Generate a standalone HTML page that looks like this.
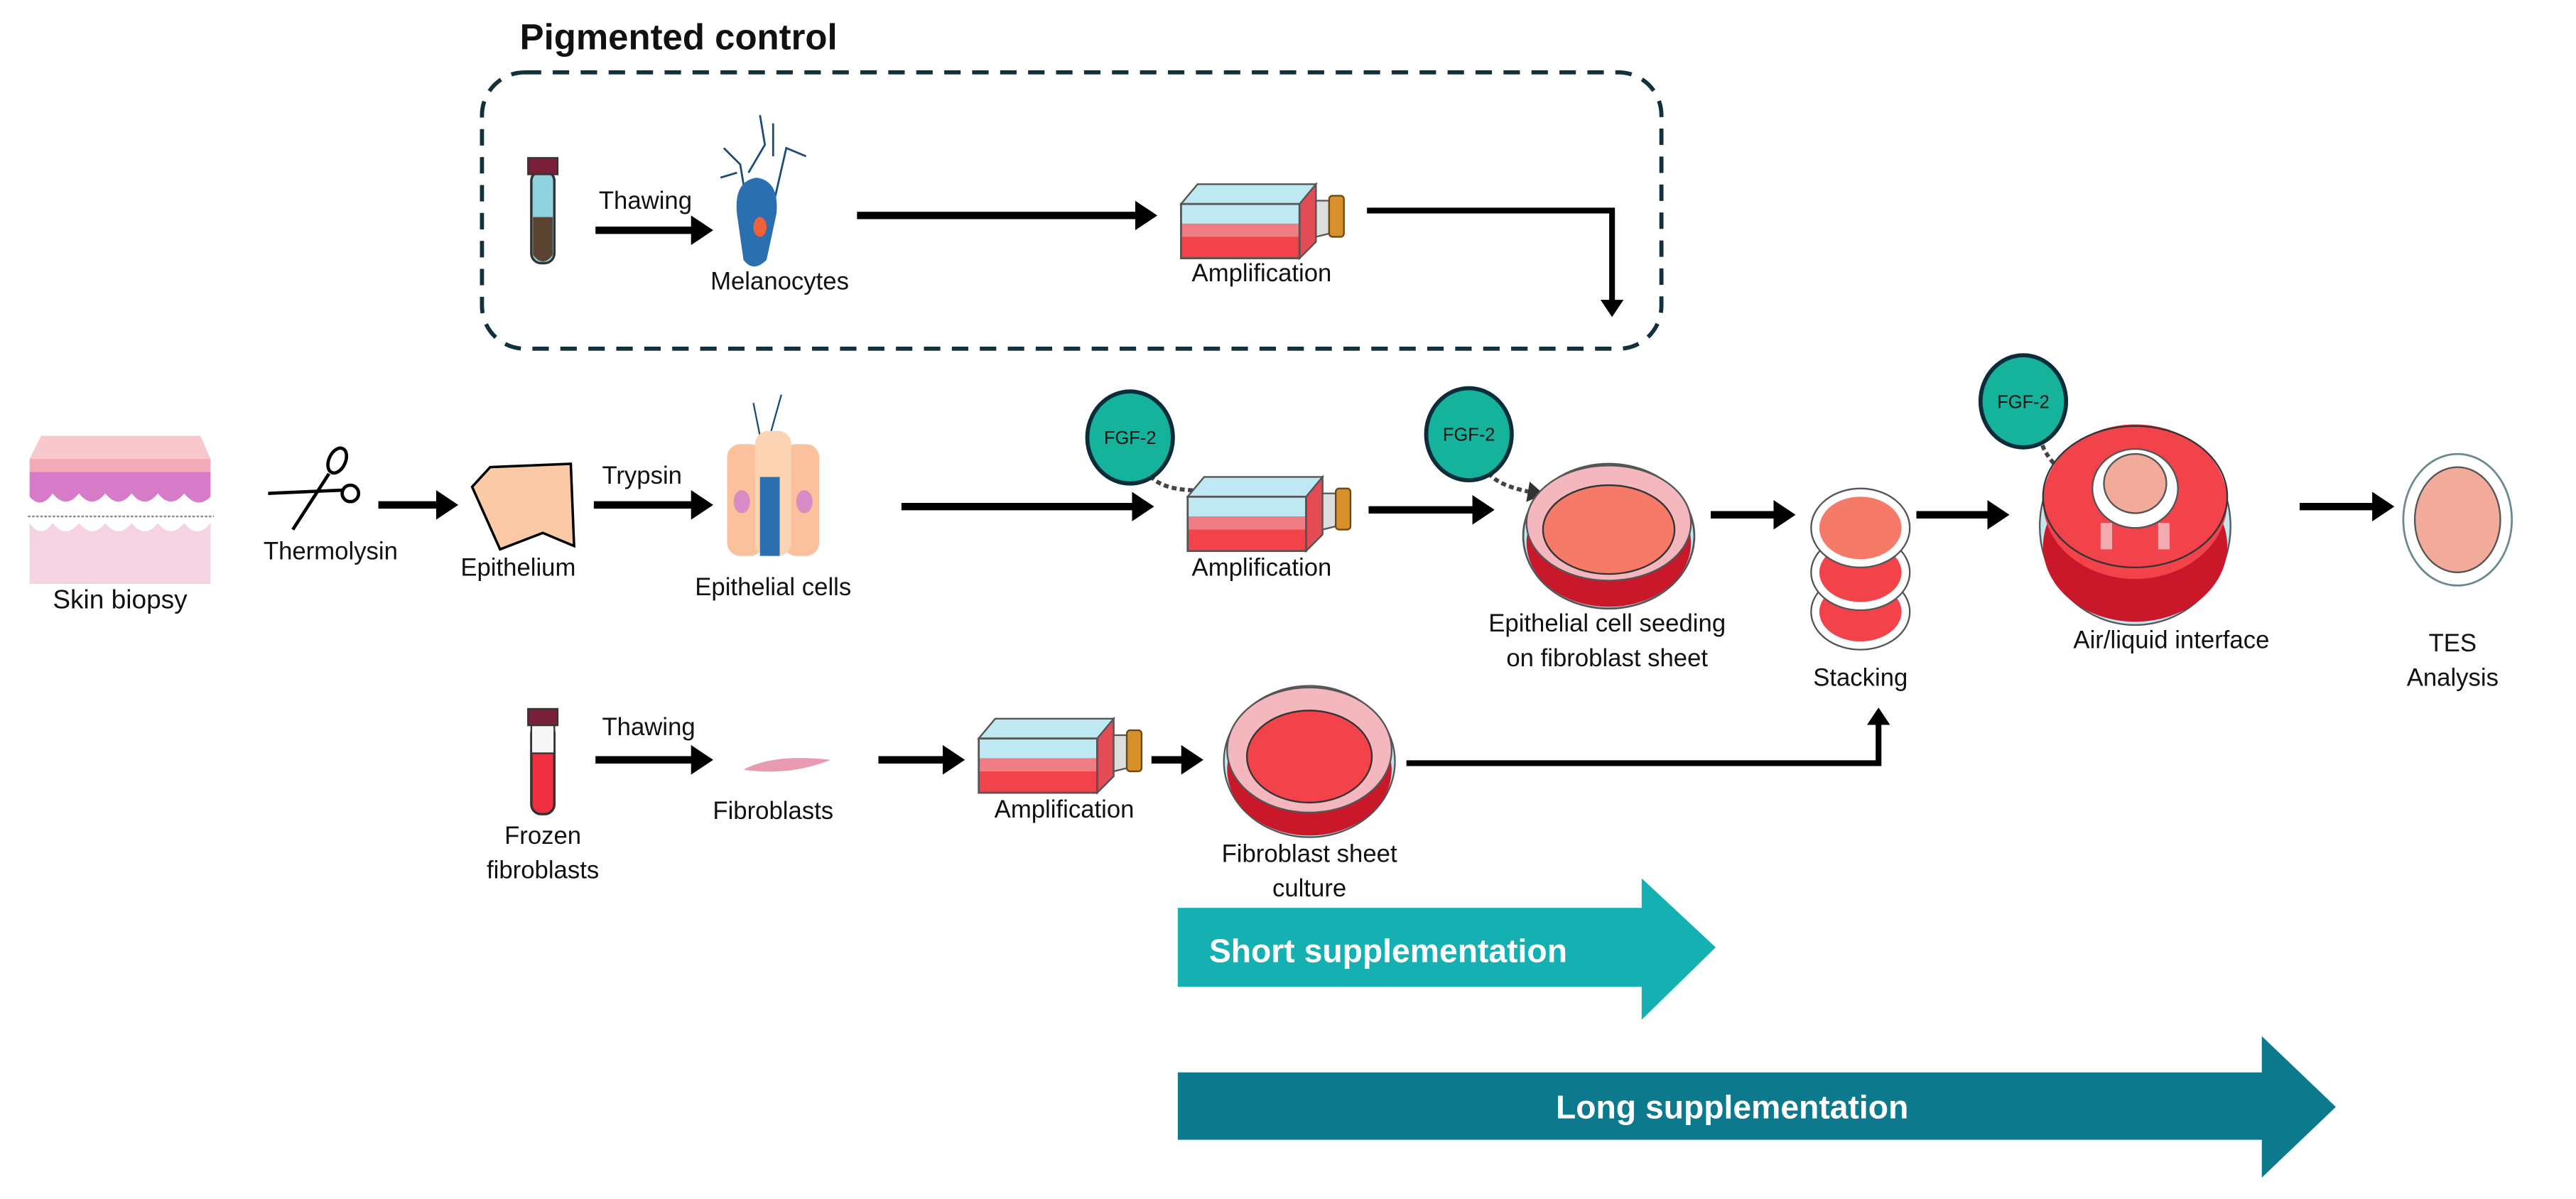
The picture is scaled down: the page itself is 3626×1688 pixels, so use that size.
<!DOCTYPE html>
<html><head><meta charset="utf-8"><style>
html,body{margin:0;padding:0;background:#fff}
svg{display:block}
text{font-family:"Liberation Sans Narrow","Liberation Sans",sans-serif;fill:#111}
</style></head><body>
<svg width="3626" height="1688" viewBox="0 0 1566 729" xmlns="http://www.w3.org/2000/svg">
<defs>
<marker id="ah" markerWidth="4" markerHeight="4" refX="2.2" refY="2" orient="auto" markerUnits="strokeWidth">
<path d="M0,0 L3,2 L0,4 z" fill="#000"/></marker>
<marker id="ahs" markerWidth="5" markerHeight="5" refX="2.5" refY="2.5" orient="auto" markerUnits="strokeWidth">
<path d="M0,0 L4,2.5 L0,5 z" fill="#333"/></marker>
<g id="flask">
<path d="M0,12 L10,0 L82,0 L82,35 L72,45 L0,45 z" fill="#f3f6f7" stroke="#555" stroke-width="1"/>
<path d="M0,12 L10,0 L82,0 L72,12 z" fill="#bfe9f2" stroke="#555" stroke-width="1"/>
<rect x="0" y="12" width="72" height="14" fill="#bfe9f2"/>
<rect x="0" y="24" width="72" height="21" fill="#f2424a"/>
<rect x="0" y="24" width="72" height="8" fill="#f07c84"/>
<path d="M72,12 L82,0 L82,35 L72,45 z" fill="#e34c54" stroke="#555" stroke-width="1"/>
<rect x="0" y="12" width="72" height="33" fill="none" stroke="#555" stroke-width="1.2"/>
<path d="M82,10 L90,10 L90,30 L82,32 z" fill="#ddd" stroke="#555"/>
<rect x="90" y="7" width="9" height="25" rx="2" fill="#d8902a" stroke="#6a4a10"/>
</g>
<g id="fgf">
<ellipse cx="0" cy="0" rx="26" ry="28" fill="#15b39c" stroke="#0b2c3a" stroke-width="2.5"/>
<text x="0" y="4" font-size="11" text-anchor="middle">FGF-2</text>
</g>
</defs>

<text x="316" y="30" font-size="22" font-weight="bold" font-family="Liberation Sans, sans-serif">Pigmented control</text>
<rect x="293" y="44" width="717" height="168" rx="26" fill="none" stroke="#13303d" stroke-width="2.5" stroke-dasharray="10,7"/>

<rect x="323" y="104" width="14" height="56" rx="6" fill="#8fd3df" stroke="#333" stroke-width="1.5"/>
<path d="M324,132 L336,132 L336,155 Q330,163 324,155 z" fill="#5a4330"/>
<rect x="321" y="96" width="18" height="10" fill="#7a1f3a" stroke="#333"/>
<text x="364" y="127" font-size="15">Thawing</text>
<line x1="362" y1="140" x2="430" y2="140" stroke="#000" stroke-width="4.5" marker-end="url(#ah)"/>
<g stroke="#1d4b7a" stroke-width="1.2" fill="none">
<path d="M455,130 L450,100 L440,90 M455,105 L465,88 L462,70 M470,125 L478,90 L490,95 M470,95 L470,75 M448,105 L438,108"/></g>
<path d="M448,130 Q446,110 460,108 Q474,110 472,130 L466,158 Q458,166 452,158 z" fill="#2a6fb0"/>
<ellipse cx="462" cy="138" rx="4" ry="6" fill="#f2603a"/>
<text x="474" y="176" font-size="15" text-anchor="middle">Melanocytes</text>
<line x1="521" y1="131" x2="700" y2="131" stroke="#000" stroke-width="4.5" marker-end="url(#ah)"/>
<use href="#flask" x="718" y="112"/>
<text x="767" y="171" font-size="15" text-anchor="middle">Amplification</text>
<polyline points="831,128 980,128 980,190" fill="none" stroke="#000" stroke-width="3.5" marker-end="url(#ah)"/>

<path d="M18,279 L25,265 L122,265 L128,279 z" fill="#f7c9cf"/>
<rect x="18" y="279" width="110" height="8" fill="#f3aab8"/>
<path d="M18,287 L128,287 L128,302 Q120,310 112,300 Q104,310 96,300 Q88,310 80,300 Q72,310 64,300 Q56,310 48,300 Q40,310 32,300 Q25,310 18,302 z" fill="#d77ac7"/>
<line x1="17" y1="314" x2="130" y2="314" stroke="#888" stroke-width="1" stroke-dasharray="1.5,1"/>
<path d="M18,318 Q25,328 32,318 Q40,328 48,318 Q56,328 64,318 Q72,328 80,318 Q88,328 96,318 Q104,328 112,318 Q120,328 128,318 L128,355 L18,355 z" fill="#f5d3e2"/>
<text x="73" y="370" font-size="16" text-anchor="middle">Skin biopsy</text>
<g stroke="#000" stroke-width="2" fill="none">
<ellipse cx="205" cy="280" rx="5" ry="8" transform="rotate(25 205 280)"/>
<circle cx="213" cy="300" r="5"/>
<line x1="200" y1="288" x2="178" y2="322"/>
<line x1="208" y1="298" x2="163" y2="300"/>
</g>
<text x="201" y="340" font-size="15" text-anchor="middle">Thermolysin</text>
<line x1="230" y1="307" x2="275" y2="307" stroke="#000" stroke-width="4.5" marker-end="url(#ah)"/>
<polygon points="287,296 298,284 347,282 349,332 330,324 304,334" fill="#fbc9a6" stroke="#000" stroke-width="1.5"/>
<text x="315" y="350" font-size="15" text-anchor="middle">Epithelium</text>
<text x="366" y="294" font-size="15">Trypsin</text>
<line x1="361" y1="307" x2="430" y2="307" stroke="#000" stroke-width="4.5" marker-end="url(#ah)"/>
<g stroke="#1d4b7a" stroke-width="1" fill="none"><path d="M462,265 L458,245 M468,265 L475,240 M455,280 L445,275"/></g>
<rect x="442" y="270" width="22" height="68" rx="8" fill="#fbc19c"/>
<rect x="476" y="270" width="22" height="68" rx="8" fill="#fbc19c"/>
<rect x="459" y="262" width="22" height="76" rx="8" fill="#fcd3b3"/>
<rect x="462" y="290" width="12" height="48" fill="#2a6fb0"/>
<ellipse cx="451" cy="305" rx="5" ry="7" fill="#d88bc5"/>
<ellipse cx="489" cy="305" rx="5" ry="7" fill="#d88bc5"/>
<text x="470" y="362" font-size="15" text-anchor="middle">Epithelial cells</text>
<line x1="548" y1="308" x2="698" y2="308" stroke="#000" stroke-width="4.5" marker-end="url(#ah)"/>
<path d="M697,285 Q702,300 738,298" fill="none" stroke="#444" stroke-width="2.5" stroke-dasharray="3,2" marker-end="url(#ahs)"/>
<use href="#fgf" x="687" y="266"/>
<use href="#flask" x="722" y="290"/>
<text x="767" y="350" font-size="15" text-anchor="middle">Amplification</text>
<line x1="832" y1="310" x2="905" y2="310" stroke="#000" stroke-width="4.5" marker-end="url(#ah)"/>
<path d="M903,283 Q905,295 935,300" fill="none" stroke="#444" stroke-width="2.5" stroke-dasharray="3,2" marker-end="url(#ahs)"/>
<use href="#fgf" x="893" y="264"/>
<ellipse cx="978" cy="326" rx="52" ry="44" fill="#bfe9f2" stroke="#555" stroke-width="1.2"/>
<ellipse cx="978" cy="330" rx="50" ry="39" fill="#c8182a"/>
<ellipse cx="978" cy="318" rx="50" ry="35" fill="#f5b7be" stroke="#555"/>
<ellipse cx="978" cy="322" rx="40" ry="27" fill="#f57a68" stroke="#333"/>
<text x="977" y="384" font-size="15" text-anchor="middle">Epithelial cell seeding</text>
<text x="977" y="405" font-size="15" text-anchor="middle">on fibroblast sheet</text>
<line x1="1040" y1="313" x2="1088" y2="313" stroke="#000" stroke-width="4.5" marker-end="url(#ah)"/>
<ellipse cx="1131" cy="372" rx="30" ry="23" fill="#fff" stroke="#555"/>
<ellipse cx="1131" cy="372" rx="25" ry="18" fill="#f2424a"/>
<ellipse cx="1131" cy="348" rx="30" ry="23" fill="#fff" stroke="#555"/>
<ellipse cx="1131" cy="348" rx="25" ry="18" fill="#f2424a"/>
<ellipse cx="1131" cy="321" rx="30" ry="24" fill="#fff" stroke="#555"/>
<ellipse cx="1131" cy="321" rx="25" ry="19" fill="#f57a68"/>
<text x="1131" y="417" font-size="15" text-anchor="middle">Stacking</text>
<line x1="1165" y1="313" x2="1218" y2="313" stroke="#000" stroke-width="4.5" marker-end="url(#ah)"/>
<path d="M1240,266 Q1245,285 1268,295" fill="none" stroke="#444" stroke-width="2.5" stroke-dasharray="3,2" marker-end="url(#ahs)"/>
<use href="#fgf" x="1230" y="244"/>
<ellipse cx="1298" cy="320" rx="58" ry="60" fill="#bfe9f2" stroke="#555"/>
<ellipse cx="1298" cy="332" rx="56" ry="46" fill="#c8182a"/>
<ellipse cx="1298" cy="305" rx="56" ry="47" fill="#f2424a"/>
<ellipse cx="1298" cy="302" rx="56" ry="43" fill="none" stroke="#333"/>
<rect x="1277" y="318" width="7" height="16" fill="#f3aab0"/>
<rect x="1312" y="318" width="7" height="16" fill="#f3aab0"/>
<ellipse cx="1298" cy="297" rx="26" ry="24" fill="#fff" stroke="#555"/>
<ellipse cx="1298" cy="294" rx="19" ry="18" fill="#f2aa9a" stroke="#555"/>
<text x="1320" y="394" font-size="15" text-anchor="middle">Air/liquid interface</text>
<line x1="1398" y1="308" x2="1452" y2="308" stroke="#000" stroke-width="4.5" marker-end="url(#ah)"/>
<ellipse cx="1494" cy="316" rx="33" ry="40" fill="#fff" stroke="#6a8a90" stroke-width="1.2"/>
<ellipse cx="1494" cy="316" rx="26" ry="32" fill="#f2aa9a" stroke="#555"/>
<text x="1491" y="396" font-size="15" text-anchor="middle">TES</text>
<text x="1491" y="417" font-size="15" text-anchor="middle">Analysis</text>

<rect x="323" y="440" width="14" height="55" rx="6" fill="#f03040" stroke="#333" stroke-width="1.5"/>
<rect x="323" y="440" width="14" height="18" fill="#f7f7f7" stroke="#333" stroke-width="1"/>
<rect x="321" y="431" width="18" height="10" fill="#7a1f3a" stroke="#333"/>
<text x="330" y="513" font-size="15" text-anchor="middle">Frozen</text>
<text x="330" y="534" font-size="15" text-anchor="middle">fibroblasts</text>
<text x="366" y="447" font-size="15">Thawing</text>
<line x1="362" y1="462" x2="430" y2="462" stroke="#000" stroke-width="4.5" marker-end="url(#ah)"/>
<path d="M452,468 Q470,458 505,462 Q480,472 452,468 z" fill="#e89ab0"/>
<text x="470" y="498" font-size="15" text-anchor="middle">Fibroblasts</text>
<line x1="534" y1="462" x2="583" y2="462" stroke="#000" stroke-width="4.5" marker-end="url(#ah)"/>
<use href="#flask" x="595" y="437"/>
<text x="647" y="497" font-size="15" text-anchor="middle">Amplification</text>
<line x1="700" y1="462" x2="728" y2="462" stroke="#000" stroke-width="4.5" marker-end="url(#ah)"/>
<ellipse cx="796" cy="463" rx="52" ry="46" fill="#bfe9f2" stroke="#555"/>
<ellipse cx="796" cy="468" rx="50" ry="40" fill="#c8182a"/>
<ellipse cx="796" cy="456" rx="50" ry="38" fill="#f5b7be" stroke="#555"/>
<ellipse cx="796" cy="460" rx="38" ry="28" fill="#f2424a" stroke="#333"/>
<text x="796" y="524" font-size="15" text-anchor="middle">Fibroblast sheet</text>
<text x="796" y="545" font-size="15" text-anchor="middle">culture</text>
<polyline points="855,464 1142,464 1142,433" fill="none" stroke="#000" stroke-width="3.5" marker-end="url(#ah)"/>

<polygon points="716,552 998,552 998,534 1043,576 998,620 998,600 716,600" fill="#14b0b2"/>
<text x="735" y="585" font-size="20" font-weight="bold" font-family="Liberation Sans, sans-serif" style="fill:#fff">Short supplementation</text>
<polygon points="716,652 1375,652 1375,630 1420,673 1375,716 1375,693 716,693" fill="#0c7a8c"/>
<text x="1053" y="680" font-size="20" font-weight="bold" font-family="Liberation Sans, sans-serif" text-anchor="middle" style="fill:#fff">Long supplementation</text>
</svg>
</body></html>
